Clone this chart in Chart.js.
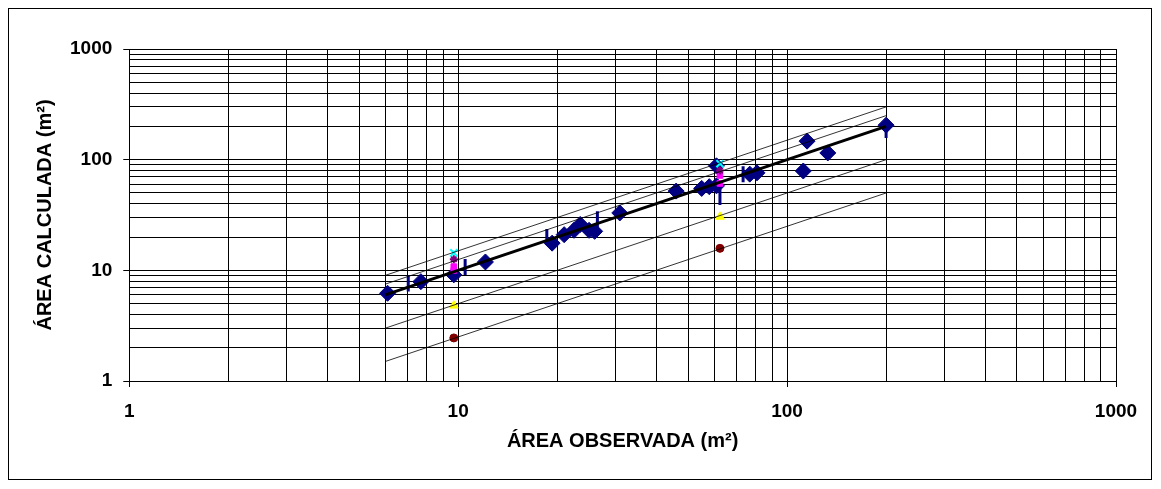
<!DOCTYPE html>
<html>
<head>
<meta charset="utf-8">
<script src="https://cdn.jsdelivr.net/npm/chart.js@4.4.1/dist/chart.umd.min.js"></script>
<style>
  html, body { margin: 0; padding: 0; background: #fff; }
  #wrap { width: 1161px; height: 489px; position: relative; }
</style>
</head>
<body>
<div id="wrap"><canvas id="chart" width="1161" height="489"></canvas></div>
<script>
// grid / tick values on both log axes
const gridValues = [1, 2, 3, 4, 5, 6, 7, 8, 9, 10, 20, 30, 40, 50, 60, 70, 80, 90,
  100, 200, 300, 400, 500, 600, 700, 800, 900, 1000];
const tickLabels = [1, 10, 100, 1000];

// observed vs calculated (navy diamonds)
const obsX = [6.1, 7.7, 9.7, 12.1, 19.3, 21, 22.5, 23.5, 25, 26, 31, 46, 55, 58, 61, 61, 77, 81, 112, 115, 133, 200];
const obsY = [6.2, 7.9, 9.1, 11.9, 17.6, 21, 23, 26, 23, 22.5, 33, 52, 55, 57, 58, 88, 74, 76, 79, 147, 115, 205];

// second method (navy vertical bars)
const barX = [7.05, 10.5, 18.6, 26.5, 62.5, 73.5, 200];
const barY = [7.6, 10.7, 20, 29, 46, 74, 185];

// estimates for the two test areas
const testX = [9.7, 62.5];
const cyanY = [14.4, 92];
const purpleY = [12.6, 80];
const magentaY = [10.8, 72];
const magenta2Y = [10.0, 61];
const yellowY = [4.8, 30.5];
const brownY = [2.45, 15.8];

// reference lines
const lineX = [6, 200];
const line100 = [6, 200];
const line150 = [9, 300];
const line125 = [7.5, 250];
const line50 = [3, 100];
const line25 = [1.5, 50];

const pts = (xs, ys) => xs.map((x, i) => ({ x: x, y: ys[i] }));

const refLine = (ys, w) => ({
  data: pts(lineX, ys),
  showLine: true,
  borderColor: '#000',
  borderWidth: w,
  pointRadius: 0
});

const marker = (xs, ys, style, color, r, bw, fill) => ({
  data: pts(xs, ys),
  showLine: false,
  pointStyle: style,
  pointRadius: r,
  pointBorderWidth: bw,
  pointBorderColor: color,
  pointBackgroundColor: fill || color
});

const frame = {
  id: 'frame',
  beforeDraw(chart) {
    const c = chart.ctx;
    c.save();
    c.fillStyle = '#fff';
    c.fillRect(0, 0, chart.width, chart.height);
    c.restore();
  },
  afterDraw(chart) {
    const c = chart.ctx;
    c.save();
    c.strokeStyle = '#000';
    c.lineWidth = 1;
    c.strokeRect(8.5, 8.5, 1143, 471);
    c.restore();
  }
};

const axis = (title, pad) => ({
  type: 'logarithmic',
  min: 1,
  max: 1000,
  afterBuildTicks(scale) {
    scale.ticks = gridValues.map(v => ({ value: v, major: tickLabels.includes(v) }));
  },
  grid: {
    color: '#000',
    lineWidth: 1,
    tickLength: 6,
    tickColor: ctx => (ctx.tick && ctx.tick.major ? '#000' : 'rgba(0,0,0,0)')
  },
  border: { display: true, color: '#000', width: 1 },
  ticks: {
    autoSkip: false,
    maxRotation: 0,
    padding: pad,
    color: '#000',
    font: { family: 'Liberation Sans, Arial', size: 19, weight: 'bold' },
    callback: v => (tickLabels.includes(v) ? String(v) : '')
  },
  title: {
    display: true,
    text: title,
    color: '#000',
    font: { family: 'Liberation Sans, Arial', size: 20, weight: 'bold' }
  }
});

const xAxis = axis('ÁREA OBSERVADA (m²)', 13.6);
xAxis.title.padding = { top: -8, bottom: 0 };
const yAxis = axis('ÁREA CALCULADA (m²)', 11);
yAxis.title.padding = { top: 8, bottom: 2 };

new Chart(document.getElementById('chart'), {
  type: 'scatter',
  data: {
    datasets: [
      refLine(line100, 3),
      refLine(line150, 0.8),
      refLine(line125, 0.8),
      refLine(line50, 0.8),
      refLine(line25, 0.8),
      marker(testX, cyanY, 'crossRot', '#00FFFF', 5, 2),
      marker(testX, purpleY, 'star', '#800080', 4, 2),
      marker(testX, magentaY, 'rect', '#FF00FF', 4, 1),
      marker(testX, magenta2Y, 'rect', '#FF00FF', 4, 1),
      marker(testX, yellowY, 'triangle', '#FFFF00', 5, 1),
      marker(testX, brownY, 'circle', '#800000', 4, 1),
      marker(obsX, obsY, 'rectRot', '#000080', 8, 1),
      Object.assign(marker(barX, barY, 'line', '#000080', 8, 3), { rotation: 90 })
    ]
  },
  options: {
    responsive: false,
    animation: false,
    layout: { padding: { left: 25, right: 45, top: 49, bottom: 36 } },
    plugins: { legend: { display: false }, tooltip: { enabled: false } },
    scales: { x: xAxis, y: yAxis }
  },
  plugins: [frame]
});
</script>
</body>
</html>
